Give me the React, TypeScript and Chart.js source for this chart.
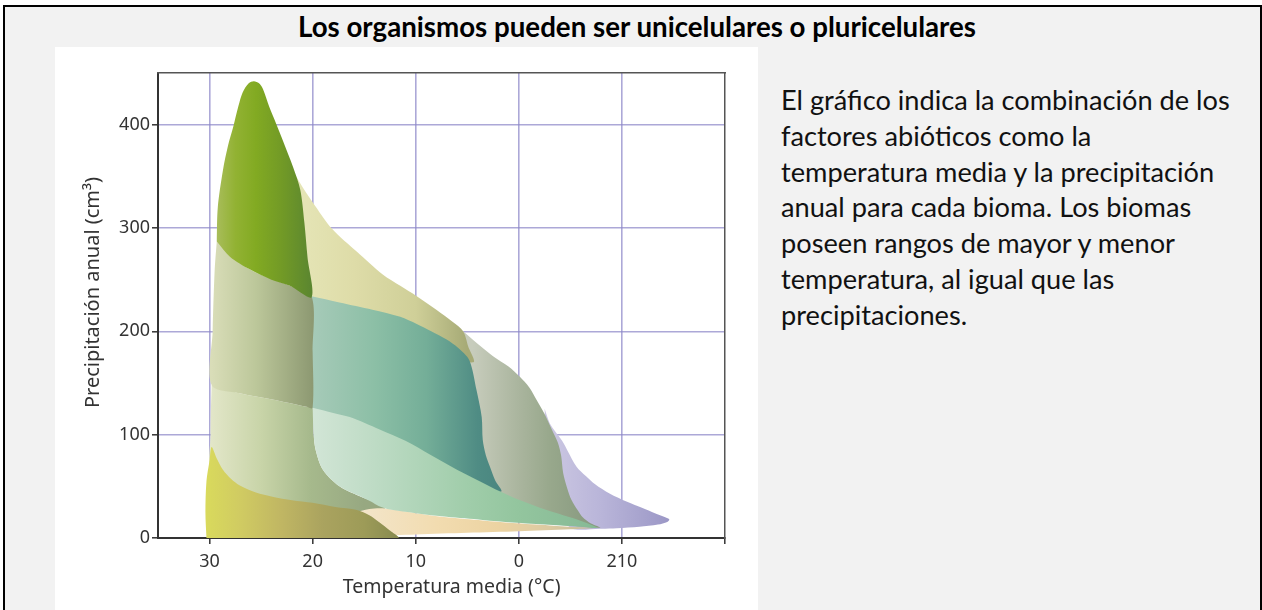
import React, { useEffect, useRef } from "react";
import { Chart, registerables } from "chart.js";

Chart.register(...registerables);

type Pt = [number, number];

// ---- Data: biome outlines as (temperatura media °C, precipitación anual cm) ----
const tundra: Pt[] = [
  [-2.5, 125], [-3.0, 111], [-3.6, 102], [-4.2, 94], [-4.7, 85], [-5.6, 69], [-6.5, 60],
  [-7.4, 52], [-8.8, 43], [-10.5, 35], [-12, 29], [-13.2, 24], [-14.2, 20], [-14.6, 18],
  [-14.4, 15.5], [-13.5, 13], [-11.7, 11], [-9.5, 9.5], [-7.9, 9], [-5, 10], [-3, 40], [-2.5, 125],
];
const borealForest: Pt[] = [
  [5.4, 200], [4, 188], [2.5, 176], [1.0, 166], [-0.1, 156], [-1.0, 146], [-1.7, 134],
  [-2.5, 120], [-3.2, 105], [-3.8, 92], [-4.1, 80], [-4.3, 63], [-4.7, 48], [-5.1, 37],
  [-5.7, 27], [-6.2, 20], [-7.0, 14], [-7.9, 10], [-5, 12], [0, 18], [3, 40], [5, 100],
  [6, 170], [6, 195], [5.4, 200],
];
const temperateRainforest: Pt[] = [
  [22.3, 362], [21, 340], [20, 325], [18.1, 299], [15.7, 277], [13.2, 255], [11.5, 244],
  [9.9, 234], [8, 221], [6.4, 209], [5.4, 200], [4.9, 185], [4.4, 170], [8, 180],
  [14, 205], [20.2, 225], [21.5, 300], [22.3, 362],
];
const temperateSeasonalForest: Pt[] = [
  [20.1, 234], [17.4, 228], [14.2, 221], [11.5, 214], [9.9, 207], [8.5, 200], [7.0, 192],
  [5.9, 184], [4.8, 172], [4.1, 143], [3.6, 117], [3.5, 95], [3.2, 80], [2.8, 69],
  [2.3, 56], [1.7, 45], [4, 48], [10, 80], [16, 110], [20, 120], [20.1, 234],
];
const savannaLower: Pt[] = [
  [29.8, 148], [27.1, 140], [23.9, 134], [20.6, 127], [20, 126], [19.9, 100], [19.7, 85],
  [19, 66], [17.4, 50], [15.1, 39], [13.5, 33], [13, 28], [15, 26], [20, 30], [25, 38],
  [29.7, 60], [29.9, 100], [29.8, 148],
];
const savannaUpper: Pt[] = [
  [29.3, 287], [29.5, 260], [29.7, 200], [29.8, 148], [27.1, 140], [23.9, 134],
  [20.6, 127], [20.0, 126], [20.0, 180], [20.1, 234], [22.2, 244], [26.1, 260], [29.3, 287],
];
const temperateGrassland: Pt[] = [
  [16, 24], [14.5, 28], [13, 28.5], [10, 24], [7, 20], [3.5, 17], [0.6, 14.5], [-3, 12.2],
  [-5.9, 10.5], [-7.6, 10], [-5, 8.5], [0, 6.5], [5, 5], [10, 3.5], [14, 2.5], [16, 2], [16, 24],
];
const woodland: Pt[] = [
  [20, 126], [18, 121], [16.4, 117], [13.5, 105], [11, 94], [8.5, 80], [6, 66], [3.8, 55],
  [1.8, 45], [0, 37], [-2.7, 27], [-5.9, 17], [-7.6, 10], [-5.9, 11], [-3, 12.8], [0.6, 15],
  [3.5, 17.5], [7, 20.5], [10, 24], [12.5, 27.5], [13.6, 31], [14.3, 35], [15.1, 39],
  [17.4, 50], [19, 66], [19.7, 85], [19.9, 100], [20, 126],
];
const tropicalRainforest: Pt[] = [
  [29.3, 287], [29.2, 320], [28.7, 356], [28.2, 380], [27.7, 398], [27.2, 418], [26.8, 431],
  [26.2, 440], [25.7, 442], [25.2, 440], [24.8, 434], [24.2, 417], [23.5, 400], [22.9, 385],
  [21.9, 359], [21.2, 337], [20.8, 305], [20.5, 272], [20.1, 233], [22.2, 244], [24, 250],
  [26.1, 260], [28, 272], [29.3, 287],
];
const subtropicalDesert: Pt[] = [
  [30.3, 0], [30.4, 25], [30.3, 55], [30.0, 75], [29.8, 88], [29.3, 77], [28.7, 66],
  [27.9, 57], [27.1, 51], [25.5, 44], [23.9, 40], [22, 36.5], [20, 34], [17.8, 30],
  [15.7, 27], [14.5, 22], [13.5, 15], [12.6, 8], [11.7, 0], [30.3, 0],
];

const xTickValues = [30, 20, 10, 0, -10, -20];
const xTickLabels = ["30", "20", "10", "0", "210", ""];
const yTickValues = [0, 100, 200, 300, 400];
const yTickLabels = ["0", "100", "200", "300", "400"];

const titleText = "Los organismos pueden ser unicelulares o pluricelulares";
const xAxisTitle = "Temperatura media (°C)";
const yAxisTitle = "Precipitación anual (cm³)";
const paragraphLines = [
  "El gráfico indica la combinación de los",
  "factores abióticos como la",
  "temperatura media y la precipitación",
  "anual para cada bioma. Los biomas",
  "poseen rangos de mayor y menor",
  "temperatura, al igual que las",
  "precipitaciones.",
];

// ---- Styles ----
const layers: { name: string; points: Pt[] }[] = [
  { name: "Tundra", points: tundra },
  { name: "Bosque boreal", points: borealForest },
  { name: "Bosque lluvioso templado", points: temperateRainforest },
  { name: "Bosque templado estacional", points: temperateSeasonalForest },
  { name: "Sabana (baja)", points: savannaLower },
  { name: "Sabana (alta)", points: savannaUpper },
  { name: "Pradera templada", points: temperateGrassland },
  { name: "Bosque/matorral", points: woodland },
  { name: "Bosque lluvioso tropical", points: tropicalRainforest },
  { name: "Desierto subtropical", points: subtropicalDesert },
];

const gradients: Record<string, [number, string][]> = {
  "Tundra": [[-3, "#cbc7e2"], [-8, "#b9b5d9"], [-14.6, "#9b97c6"]],
  "Bosque boreal": [[4.5, "#c7ccbc"], [0, "#aab59e"], [-3, "#98a88c"], [-7, "#889a80"]],
  "Bosque lluvioso templado": [[22, "#e6e6b8"], [16, "#dedca8"], [10, "#cfcf98"], [5, "#a6aa76"]],
  "Bosque templado estacional": [[20, "#a6cab8"], [14, "#8cbfa6"], [9, "#74ae98"], [4, "#4f8c84"], [1.7, "#4a8680"]],
  "Sabana (baja)": [[29.8, "#e2e6c8"], [25, "#c8d4a8"], [20.2, "#a6b98c"], [15, "#97a881"]],
  "Sabana (alta)": [[29.8, "#d9ddb8"], [25.5, "#bcc79a"], [20, "#8d9972"]],
  "Pradera templada": [[16, "#f3e6cc"], [8, "#f2dcb0"], [2, "#ecd3a2"], [-3, "#dccaa2"], [-7.6, "#c2b896"]],
  "Bosque/matorral": [[20, "#d2e5d6"], [12, "#b7d8bf"], [5, "#a0cdaa"], [0, "#93c59e"], [-7.6, "#86b995"]],
  "Bosque lluvioso tropical": [[29.4, "#a9bd5c"], [27.5, "#92b233"], [25.5, "#82aa22"], [23, "#729a26"], [20.1, "#5b8630"]],
  "Desierto subtropical": [[30.4, "#d9da5c"], [27, "#d0cb62"], [23, "#c0b663"], [19, "#aaa35f"], [15, "#9d9b58"], [11.7, "#878a4f"]],
};

const AXIS_FONT = "'Noto Sans', 'DejaVu Sans', sans-serif";
const TEXT_FONT = "Lato, 'Noto Sans', sans-serif";
const GRID_COLOR = "rgba(140,134,200,0.72)";
const INK = "#333";

function makeGradient(chart: any, stops: [number, string][]) {
  const { ctx, chartArea, scales } = chart;
  if (!chartArea) return stops[0][1];
  const xs = scales.x;
  const p0 = xs.getPixelForValue(stops[0][0]);
  const p1 = xs.getPixelForValue(stops[stops.length - 1][0]);
  const g = ctx.createLinearGradient(p0, 0, p1, 0);
  stops.forEach(([t, c]) => {
    const f = (xs.getPixelForValue(t) - p0) / (p1 - p0);
    g.addColorStop(Math.max(0, Math.min(1, f)), c);
  });
  return g;
}

export default function App() {
  const canvasRef = useRef<HTMLCanvasElement>(null);

  useEffect(() => {
    document.body.style.margin = "0";
    document.body.style.overflow = "hidden";
    document.documentElement.style.overflow = "hidden";
    const canvas = canvasRef.current;
    if (!canvas) return;
    const n = layers.length;
    const chart = new Chart(canvas, {
      type: "line",
      data: {
        datasets: layers.map((l, i) => ({
          label: l.name,
          data: l.points.map(([x, y]) => ({ x, y })),
          xAxisID: "x",
          yAxisID: "y",
          fill: "shape",
          backgroundColor: (c: any) => makeGradient(c.chart, gradients[l.name]),
          borderWidth: 0,
          pointRadius: 0,
          pointHoverRadius: 0,
          tension: 0.3,
          order: n - i,
        })),
      } as any,
      options: {
        responsive: false,
        animation: false,
        events: [],
        layout: { padding: { left: 0, top: 26, right: 33, bottom: 0 } },
        plugins: {
          legend: { display: false },
          tooltip: { enabled: false },
          title: { display: false },
        },
        scales: {
          x: {
            type: "linear",
            position: "bottom",
            reverse: true,
            min: -20,
            max: 35,
            z: 1,
            afterBuildTicks: (s: any) => {
              s.ticks = xTickValues.map((v) => ({ value: v }));
            },
            afterFit: (s: any) => {
              s.height = 72;
            },
            ticks: {
              autoSkip: false,
              maxRotation: 0,
              callback: (_v: any, i: number) => xTickLabels[i],
              color: INK,
              font: { family: AXIS_FONT, size: 18 },
              padding: 7,
            },
            grid: {
              color: (c: any) => (c.tick && c.tick.value === -20 ? "rgba(0,0,0,0)" : GRID_COLOR),
              lineWidth: 1.6,
              tickColor: INK,
              tickLength: 6,
              tickWidth: 1.5,
            },
            border: { color: INK, width: 2 },
            title: {
              display: true,
              text: "    " + xAxisTitle,
              color: INK,
              font: { family: AXIS_FONT, size: 19.5 },
              padding: { top: 0, bottom: 11 },
            },
          },
          y: {
            type: "linear",
            position: "left",
            min: 0,
            max: 450,
            z: 1,
            afterBuildTicks: (s: any) => {
              s.ticks = yTickValues.map((v) => ({ value: v }));
            },
            afterFit: (s: any) => {
              s.width = 103;
            },
            ticks: {
              autoSkip: false,
              callback: (_v: any, i: number) => yTickLabels[i],
              color: INK,
              font: { family: AXIS_FONT, size: 18 },
              padding: 2,
            },
            grid: {
              color: (c: any) => (c.tick && c.tick.value === 0 ? "rgba(0,0,0,0)" : GRID_COLOR),
              lineWidth: 1.6,
              tickColor: INK,
              tickLength: 6,
              tickWidth: 1.5,
            },
            border: { color: INK, width: 2 },
            title: {
              display: true,
              text: "     " + yAxisTitle,
              color: INK,
              font: { family: AXIS_FONT, size: 20 },
              padding: { top: 26, bottom: 0 },
            },
          },
          x2: {
            type: "linear",
            position: "top",
            reverse: true,
            min: -20,
            max: 35,
            z: 1,
            grid: { display: false, drawTicks: false },
            ticks: { display: false },
            border: { display: true, color: "#555", width: 1.5 },
            afterFit: (s: any) => {
              s.height = 0;
            },
          },
          y2: {
            type: "linear",
            position: "right",
            min: 0,
            max: 450,
            z: 1,
            grid: { display: false, drawTicks: false },
            ticks: { display: false },
            border: { display: true, color: "#555", width: 1.5 },
            afterFit: (s: any) => {
              s.width = 0;
            },
          },
        },
      } as any,
    });
    return () => chart.destroy();
  }, []);

  return (
    <div style={{ position: "relative", width: 1262, height: 610, overflow: "hidden", background: "#fff" }}>
      <div
        style={{
          position: "absolute",
          left: 3,
          top: 5,
          right: 0,
          bottom: 0,
          borderTop: "2px solid #000",
          borderLeft: "2px solid #000",
          borderRight: "2px solid #000",
          background: "#f2f2f2",
        }}
      />
      <div
        style={{
          position: "absolute",
          left: 0,
          top: 11,
          width: 1274,
          textAlign: "center",
          fontFamily: TEXT_FONT,
          fontWeight: 700,
          fontSize: 27.7,
          lineHeight: "32px",
          color: "#000",
          whiteSpace: "nowrap",
        }}
      >
        {titleText}
      </div>
      <div style={{ position: "absolute", left: 55, top: 47, width: 703, height: 563, background: "#fff" }}>
        <canvas ref={canvasRef} width={703} height={563} style={{ display: "block" }} />
      </div>
      <div
        style={{
          position: "absolute",
          left: 781,
          top: 82,
          fontFamily: TEXT_FONT,
          fontSize: 27.2,
          lineHeight: "35.8px",
          color: "#111",
          whiteSpace: "nowrap",
        }}
      >
        {paragraphLines.map((line, i) => (
          <div key={i}>{line}</div>
        ))}
      </div>
    </div>
  );
}
